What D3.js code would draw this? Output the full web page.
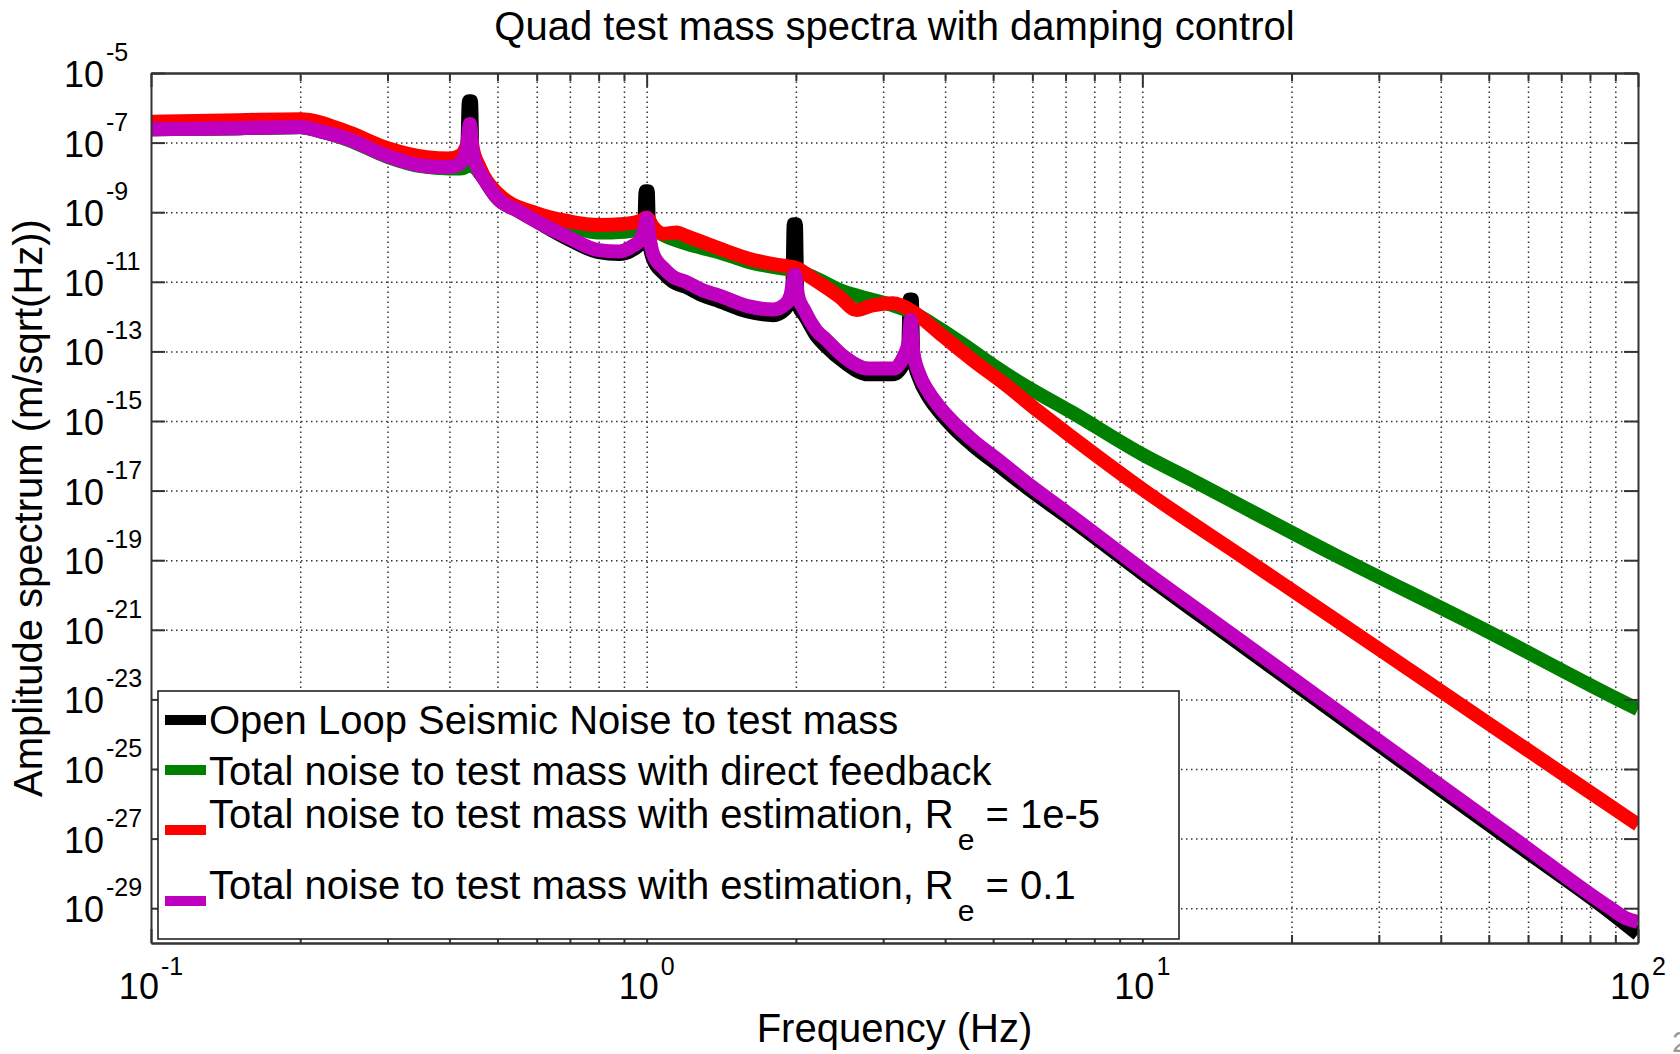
<!DOCTYPE html>
<html>
<head>
<meta charset="utf-8">
<script src="https://cdn.jsdelivr.net/npm/d3@7"></script>
<style>
  html, body { margin: 0; padding: 0; background: #fff; }
  svg { display: block; font-family: "Liberation Sans", Arial, Helvetica, sans-serif; }
</style>
</head>
<body>
<svg id="chart"></svg>
<script>
const width = 1680;
const height = 1054;
const plot = { left: 151, right: 1638, top: 73, bottom: 943 };

// axis ticks (powers of ten)
const xTickExps = [-1, 0, 1, 2];
const yTickExps = [-5, -7, -9, -11, -13, -15, -17, -19, -21, -23, -25, -27, -29];

// Open loop seismic noise to test mass
const freqOpen = [0.1, 0.15, 0.2, 0.22, 0.25, 0.3, 0.35, 0.38, 0.4, 0.42, 0.43, 0.4347, 0.4378, 0.4422, 0.4453, 0.455, 0.47, 0.5, 0.55, 0.6, 0.7, 0.8, 0.88, 0.93, 0.97, 0.988, 0.995, 1.005, 1.012, 1.03, 1.08, 1.13, 1.2, 1.3, 1.4, 1.6, 1.8, 1.9, 1.95, 1.966, 1.98, 2.0, 2.014, 2.04, 2.08, 2.2, 2.3, 2.5, 2.8, 3.14, 3.3, 3.37, 3.393, 3.427, 3.45, 3.55, 3.7, 3.9, 4.2, 4.55, 5.15, 6, 7, 10, 13.7, 23, 37, 57, 88, 100];
const ampOpen = [2.4e-7, 2.6e-7, 2.8e-7, 2.1e-7, 1.26e-7, 4.1e-8, 2.2e-8, 2.0e-8, 2.0e-8, 2.5e-8, 4.0e-8, 8.0e-8, 1.55e-6, 1.55e-6, 4.0e-8, 1.8e-8, 8.9e-9, 2.5e-9, 1.1e-9, 5.4e-10, 1.6e-10, 7.1e-11, 6.3e-11, 7.9e-11, 1.26e-10, 2.2e-10, 4.0e-9, 4.0e-9, 1.4e-10, 4.5e-11, 1.8e-11, 1.0e-11, 7.1e-12, 4.0e-12, 2.8e-12, 1.4e-12, 1.1e-12, 1.6e-12, 2.8e-12, 3.5e-12, 4.5e-10, 4.5e-10, 2.8e-12, 1.6e-12, 1.1e-12, 2.8e-13, 1.4e-13, 5.0e-14, 2.2e-14, 2.2e-14, 4.5e-14, 1.0e-13, 3.1e-12, 3.1e-12, 7.1e-14, 1.6e-14, 5.0e-15, 1.8e-15, 5.6e-16, 2.0e-16, 5.0e-17, 9.3e-18, 1.9e-18, 4.2e-20, 1.6e-21, 7.6e-24, 5.6e-26, 6.6e-28, 7.6e-30, 1.8e-30];

// Total noise with direct feedback
const freqDirect = [0.1, 0.15, 0.2, 0.25, 0.3, 0.35, 0.4, 0.42, 0.435, 0.44, 0.445, 0.46, 0.5, 0.6, 0.7, 0.8, 0.9, 0.97, 1.0, 1.05, 1.2, 1.4, 1.6, 1.85, 2.0, 2.16, 2.45, 2.86, 3.14, 3.44, 3.9, 4.35, 5, 5.6, 7.2, 10, 12.6, 24.5, 49, 90, 100];
const ampDirect = [2.4e-7, 2.6e-7, 2.75e-7, 1.2e-7, 3.9e-8, 2.1e-8, 1.8e-8, 1.8e-8, 2.2e-8, 3.5e-8, 2.5e-8, 1.4e-8, 3.2e-9, 7.9e-10, 4.0e-10, 2.6e-10, 2.75e-10, 3.5e-10, 5.0e-10, 2.8e-10, 1.26e-10, 7.1e-11, 3.8e-11, 2.5e-11, 2.1e-11, 1.4e-11, 5.8e-12, 3.0e-12, 2.1e-12, 1.3e-12, 4.5e-13, 1.6e-13, 4.0e-14, 1.4e-14, 1.8e-15, 1.1e-16, 2.0e-17, 1.4e-19, 1.0e-21, 1.1e-23, 5.2e-24];

// Total noise with estimation, Re = 1e-5
const freqEst5 = [0.1, 0.15, 0.2, 0.25, 0.3, 0.36, 0.4, 0.42, 0.43, 0.437, 0.44, 0.445, 0.46, 0.5, 0.6, 0.7, 0.8, 0.9, 0.97, 1.0, 1.03, 1.08, 1.15, 1.2, 1.4, 1.6, 1.85, 2.0, 2.16, 2.45, 2.65, 2.86, 3.14, 3.44, 3.9, 4.55, 5.3, 6.2, 7.2, 10, 16, 30, 50, 75, 100];
const ampEst5 = [4.0e-7, 4.4e-7, 4.7e-7, 2.0e-7, 6.9e-8, 3.8e-8, 3.5e-8, 4.2e-8, 6.3e-8, 1.26e-7, 2.5e-7, 7.9e-8, 2.0e-8, 3.5e-9, 9.3e-10, 5.4e-10, 4.3e-10, 4.6e-10, 5.6e-10, 7.1e-10, 3.8e-10, 2.4e-10, 2.6e-10, 2.1e-10, 9.1e-11, 4.7e-11, 3.0e-11, 2.5e-11, 1.26e-11, 3.7e-12, 1.55e-12, 2.1e-12, 2.4e-12, 1.4e-12, 3.3e-13, 5.6e-14, 1.1e-14, 1.8e-15, 3.5e-16, 1.1e-17, 1.2e-19, 2.8e-22, 2.0e-24, 4.0e-26, 2.5e-27];

// Total noise with estimation, Re = 0.1
const freqEst01 = [0.1, 0.15, 0.2, 0.22, 0.25, 0.3, 0.35, 0.38, 0.4, 0.42, 0.43, 0.435, 0.44, 0.445, 0.455, 0.47, 0.5, 0.55, 0.6, 0.7, 0.8, 0.88, 0.93, 0.97, 0.99, 1.0, 1.01, 1.03, 1.08, 1.13, 1.2, 1.3, 1.4, 1.6, 1.8, 1.9, 1.95, 1.99, 2.02, 2.08, 2.2, 2.3, 2.5, 2.8, 3.14, 3.3, 3.38, 3.41, 3.45, 3.55, 3.7, 3.9, 4.2, 4.55, 5.15, 6, 7, 10, 13.7, 23, 37, 57, 88, 95, 100];
const ampEst01 = [2.4e-7, 2.6e-7, 2.8e-7, 2.1e-7, 1.26e-7, 4.1e-8, 2.2e-8, 2.0e-8, 2.0e-8, 2.5e-8, 4.0e-8, 1.0e-7, 3.4e-7, 6.3e-8, 2.0e-8, 8.9e-9, 2.5e-9, 1.1e-9, 5.4e-10, 1.8e-10, 8.1e-11, 7.4e-11, 1.0e-10, 1.6e-10, 3.2e-10, 6.8e-10, 2.5e-10, 6.3e-11, 2.5e-11, 1.4e-11, 1.0e-11, 5.6e-12, 4.0e-12, 2.0e-12, 1.6e-12, 2.2e-12, 4.0e-12, 1.6e-11, 4.0e-12, 1.55e-12, 4.0e-13, 2.2e-13, 7.1e-14, 3.2e-14, 3.2e-14, 7.1e-14, 2.0e-13, 7.9e-13, 1.0e-13, 2.2e-14, 7.1e-15, 2.5e-15, 7.9e-16, 2.8e-16, 7.1e-17, 1.26e-17, 2.5e-18, 5.4e-20, 2.1e-21, 1.0e-23, 7.4e-26, 8.7e-28, 1.0e-29, 5.0e-30, 4.0e-30];

const seriesColors = ['#000000', '#007f00', '#ff0000', '#bf00bf'];
const legendMain = [
    'Open Loop Seismic Noise to test mass',
    'Total noise to test mass with direct feedback',
    'Total noise to test mass with estimation, R',
    'Total noise to test mass with estimation, R'
];
const legendSub = ['', '', 'e', 'e'];
const legendTail = ['', '', ' = 1e-5', ' = 0.1'];

const generateChart = () => {
    const svg = d3.select('#chart')
        .attr('width', width)
        .attr('height', height)
        .attr('viewBox', `0 0 ${width} ${height}`);

    svg.append('rect').attr('width', width).attr('height', height).attr('fill', '#fff');

    const x = d3.scaleLog().domain([0.1, 100]).range([plot.left, plot.right]);
    const y = d3.scaleLog().domain([1e-30, 1e-5]).range([plot.bottom, plot.top]);
    const pw = plot.right - plot.left;
    const ph = plot.bottom - plot.top;

    // all decade sub-ticks 0.1 .. 100
    const xMinor = [];
    xTickExps.slice(0, -1).forEach(e => {
        for (let k = 1; k < 10; k++) xMinor.push(k * Math.pow(10, e));
    });
    xMinor.push(100);
    const yTicks = yTickExps.map(e => Math.pow(10, e));

    // grid (dotted)
    const gx = svg.append('g')
        .attr('transform', `translate(0,${plot.bottom})`)
        .call(d3.axisBottom(x).tickValues(xMinor.filter(v => v > 0.1 && v < 100)).tickSize(-ph).tickFormat(''));
    const gy = svg.append('g')
        .attr('transform', `translate(${plot.left},0)`)
        .call(d3.axisLeft(y).tickValues(yTicks.filter(v => v < 1e-5)).tickSize(-pw).tickFormat(''));
    [gx, gy].forEach(g => {
        g.select('.domain').remove();
        g.selectAll('line')
            .attr('stroke', '#333')
            .attr('stroke-width', 1.5)
            .attr('stroke-dasharray', '1.5,3.5');
    });

    // curves
    svg.append('clipPath').attr('id', 'clip')
        .append('rect')
        .attr('x', plot.left).attr('y', plot.top)
        .attr('width', pw).attr('height', ph);

    const line = d3.line()
        .curve(d3.curveMonotoneX)
        .x(d => x(d[0]))
        .y(d => y(d[1]));

    const series = [
        d3.zip(freqOpen, ampOpen),
        d3.zip(freqDirect, ampDirect),
        d3.zip(freqEst5, ampEst5),
        d3.zip(freqEst01, ampEst01)
    ];

    svg.append('g').attr('clip-path', 'url(#clip)')
        .selectAll('path')
        .data(series)
        .enter().append('path')
        .attr('d', line)
        .attr('fill', 'none')
        .attr('stroke', (d, i) => seriesColors[i])
        .attr('stroke-width', 14)
        .attr('stroke-linejoin', 'round')
        .attr('stroke-linecap', 'butt');

    // axes box + ticks (inward)
    const axisStyle = g => {
        g.select('.domain').attr('stroke', '#333').attr('stroke-width', 2);
        g.selectAll('.tick line').attr('stroke', '#333').attr('stroke-width', 2);
    };
    const majorX = xTickExps.map(e => Math.pow(10, e));
    const minorX = xMinor.filter(v => !majorX.includes(v));

    svg.append('g').attr('transform', `translate(0,${plot.bottom})`)
        .call(d3.axisBottom(x).tickValues(majorX).tickSize(-14).tickSizeOuter(0).tickFormat('')).call(axisStyle);
    svg.append('g').attr('transform', `translate(0,${plot.bottom})`)
        .call(d3.axisBottom(x).tickValues(minorX).tickSize(-8).tickSizeOuter(0).tickFormat('')).call(axisStyle);
    svg.append('g').attr('transform', `translate(0,${plot.top})`)
        .call(d3.axisTop(x).tickValues(majorX).tickSize(-14).tickSizeOuter(0).tickFormat('')).call(axisStyle);
    svg.append('g').attr('transform', `translate(0,${plot.top})`)
        .call(d3.axisTop(x).tickValues(minorX).tickSize(-8).tickSizeOuter(0).tickFormat('')).call(axisStyle);
    svg.append('g').attr('transform', `translate(${plot.left},0)`)
        .call(d3.axisLeft(y).tickValues(yTicks).tickSize(-14).tickSizeOuter(0).tickFormat('')).call(axisStyle);
    svg.append('g').attr('transform', `translate(${plot.right},0)`)
        .call(d3.axisRight(y).tickValues(yTicks).tickSize(-14).tickSizeOuter(0).tickFormat('')).call(axisStyle);

    // tick labels 10^n
    const xLab = svg.append('g').selectAll('text')
        .data(xTickExps).enter().append('text')
        .attr('x', d => x(Math.pow(10, d)))
        .attr('y', 999)
        .attr('text-anchor', 'middle')
        .attr('font-size', 36)
        .attr('fill', '#000');
    xLab.append('tspan').text('10');
    xLab.append('tspan').attr('dy', -24).attr('dx', 2).attr('font-size', 25).text(d => d);

    const yLab = svg.append('g').selectAll('text')
        .data(yTickExps).enter().append('text')
        .attr('x', 64)
        .attr('y', d => y(Math.pow(10, d)) + 14)
        .attr('text-anchor', 'start')
        .attr('font-size', 36)
        .attr('fill', '#000');
    yLab.append('tspan').text('10');
    yLab.append('tspan').attr('dy', -26).attr('dx', 2).attr('font-size', 25).text(d => d);

    // titles
    svg.append('text')
        .attr('x', (plot.left + plot.right) / 2)
        .attr('y', 40)
        .attr('text-anchor', 'middle')
        .attr('font-size', 40)
        .text('Quad test mass spectra with damping control');

    svg.append('text')
        .attr('x', (plot.left + plot.right) / 2)
        .attr('y', 1042)
        .attr('text-anchor', 'middle')
        .attr('font-size', 40)
        .text('Frequency (Hz)');

    svg.append('text')
        .attr('transform', `translate(42,${(plot.top + plot.bottom) / 2}) rotate(-90)`)
        .attr('text-anchor', 'middle')
        .attr('font-size', 40)
        .text('Amplitude spectrum (m/sqrt(Hz))');

    // legend
    const legend = svg.append('g');
    legend.append('rect')
        .attr('x', 158).attr('y', 691)
        .attr('width', 1021).attr('height', 248)
        .attr('fill', '#fff')
        .attr('stroke', '#222')
        .attr('stroke-width', 1.6);

    const sampleY = [720, 770, 830, 901];
    const textY = [734, 785, 828, 899];
    legendMain.forEach((txt, i) => {
        legend.append('line')
            .attr('x1', 165).attr('x2', 206)
            .attr('y1', sampleY[i]).attr('y2', sampleY[i])
            .attr('stroke', seriesColors[i])
            .attr('stroke-width', 10);
        const t = legend.append('text')
            .attr('x', 209).attr('y', textY[i])
            .attr('font-size', 40);
        t.append('tspan').text(txt);
        if (legendSub[i]) {
            t.append('tspan').attr('dy', 22).attr('dx', 4).attr('font-size', 30).text(legendSub[i]);
            t.append('tspan').attr('dy', -22).text(legendTail[i]);
        }
    });

    // slide page number (cut off at the edge, as on the slide)
    svg.append('text')
        .attr('x', 1672).attr('y', 1052)
        .attr('font-size', 30)
        .attr('fill', '#9a9a9a')
        .text('2');
};

generateChart();
</script>
</body>
</html>
